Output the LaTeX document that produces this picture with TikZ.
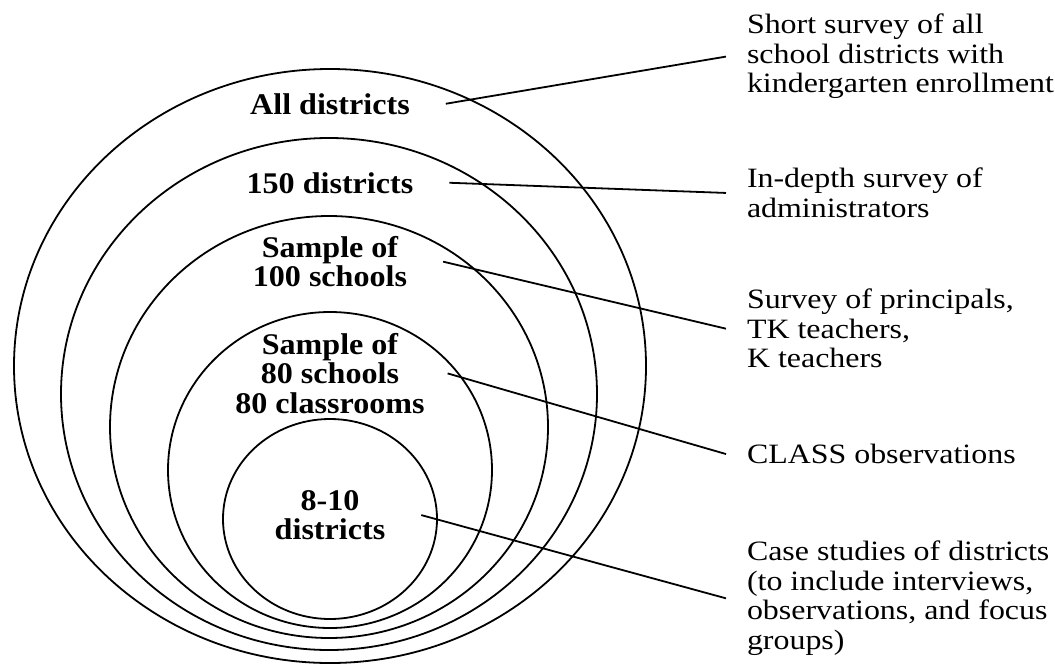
\documentclass[tikz,border=0pt]{standalone}
\usepackage{fontspec}
\setmainfont{Liberation Serif}[FakeStretch=1.14]
\newfontfamily\tierfont{Liberation Serif}[FakeStretch=1.07]
\usetikzlibrary{shapes.geometric}

\begin{document}
\begin{tikzpicture}
[
  x = 1pt, y = -1pt,
  every node/.append style = {font=\fontsize{28}{29.5}\selectfont},
  ring/.style   = {shape=ellipse, draw, line width=1.8pt, inner sep=0pt},
  tier/.style   = {font=\tierfont\bfseries\fontsize{30}{29.5}\selectfont, align=center,
                   inner sep=0pt, anchor=north, outer xsep=36pt},
  note/.style   = {align=left, inner sep=0pt, anchor=north west, outer xsep=21pt},
  leader/.style = {draw, line width=1.8pt}
]
\useasboundingbox (0,0) rectangle (1055,667);

% nested samples
\node [ring, minimum width=632pt, minimum height=594pt] (ringall) at (330,366) {};
\node [ring, minimum width=536pt, minimum height=512pt] (ring150) at (329,394) {};
\node [ring, minimum width=438pt, minimum height=422pt] (ring100) at (329,427) {};
\node [ring, minimum width=324pt, minimum height=316pt] (ring80)  at (330,470) {};
\node [ring, minimum width=214pt, minimum height=200pt] (ring8)   at (330,519) {};

\node [tier] (laball) at (330,93)  {All districts};
\node [tier] (lab150) at (330,172) {150 districts};
\node [tier] (lab100) at (330,236) {Sample of\\100 schools};
\node [tier, outer xsep=23pt] (lab80) at (330,333) {Sample of\\80 schools\\80 classrooms};
\node [tier] (lab8)   at (330,490) {8-10\\districts};

% data collection
\node [note] (shortsurvey) at (726,14)  {Short survey of all\\school districts with\\kindergarten enrollment};
\node [note] (indepth)     at (726,168) {In-depth survey of\\administrators};
\node [note] (principals)  at (726,289) {Survey of principals,\\TK teachers,\\K teachers};
\node [note] (classobs)    at (726,444) {CLASS observations};
\node [note] (casestudies) at (726,541) {Case studies of districts\\(to include interviews,\\observations, and focus\\groups)};

\draw [leader] (laball.east) -- (shortsurvey.west);
\draw [leader] (lab150.east) -- (indepth.west);
\draw [leader] (lab100.east) -- (principals.west);
\draw [leader] (lab80.east)  -- (classobs.west);
\draw [leader] (lab8.east)   -- (casestudies.west);
\end{tikzpicture}
\end{document}
